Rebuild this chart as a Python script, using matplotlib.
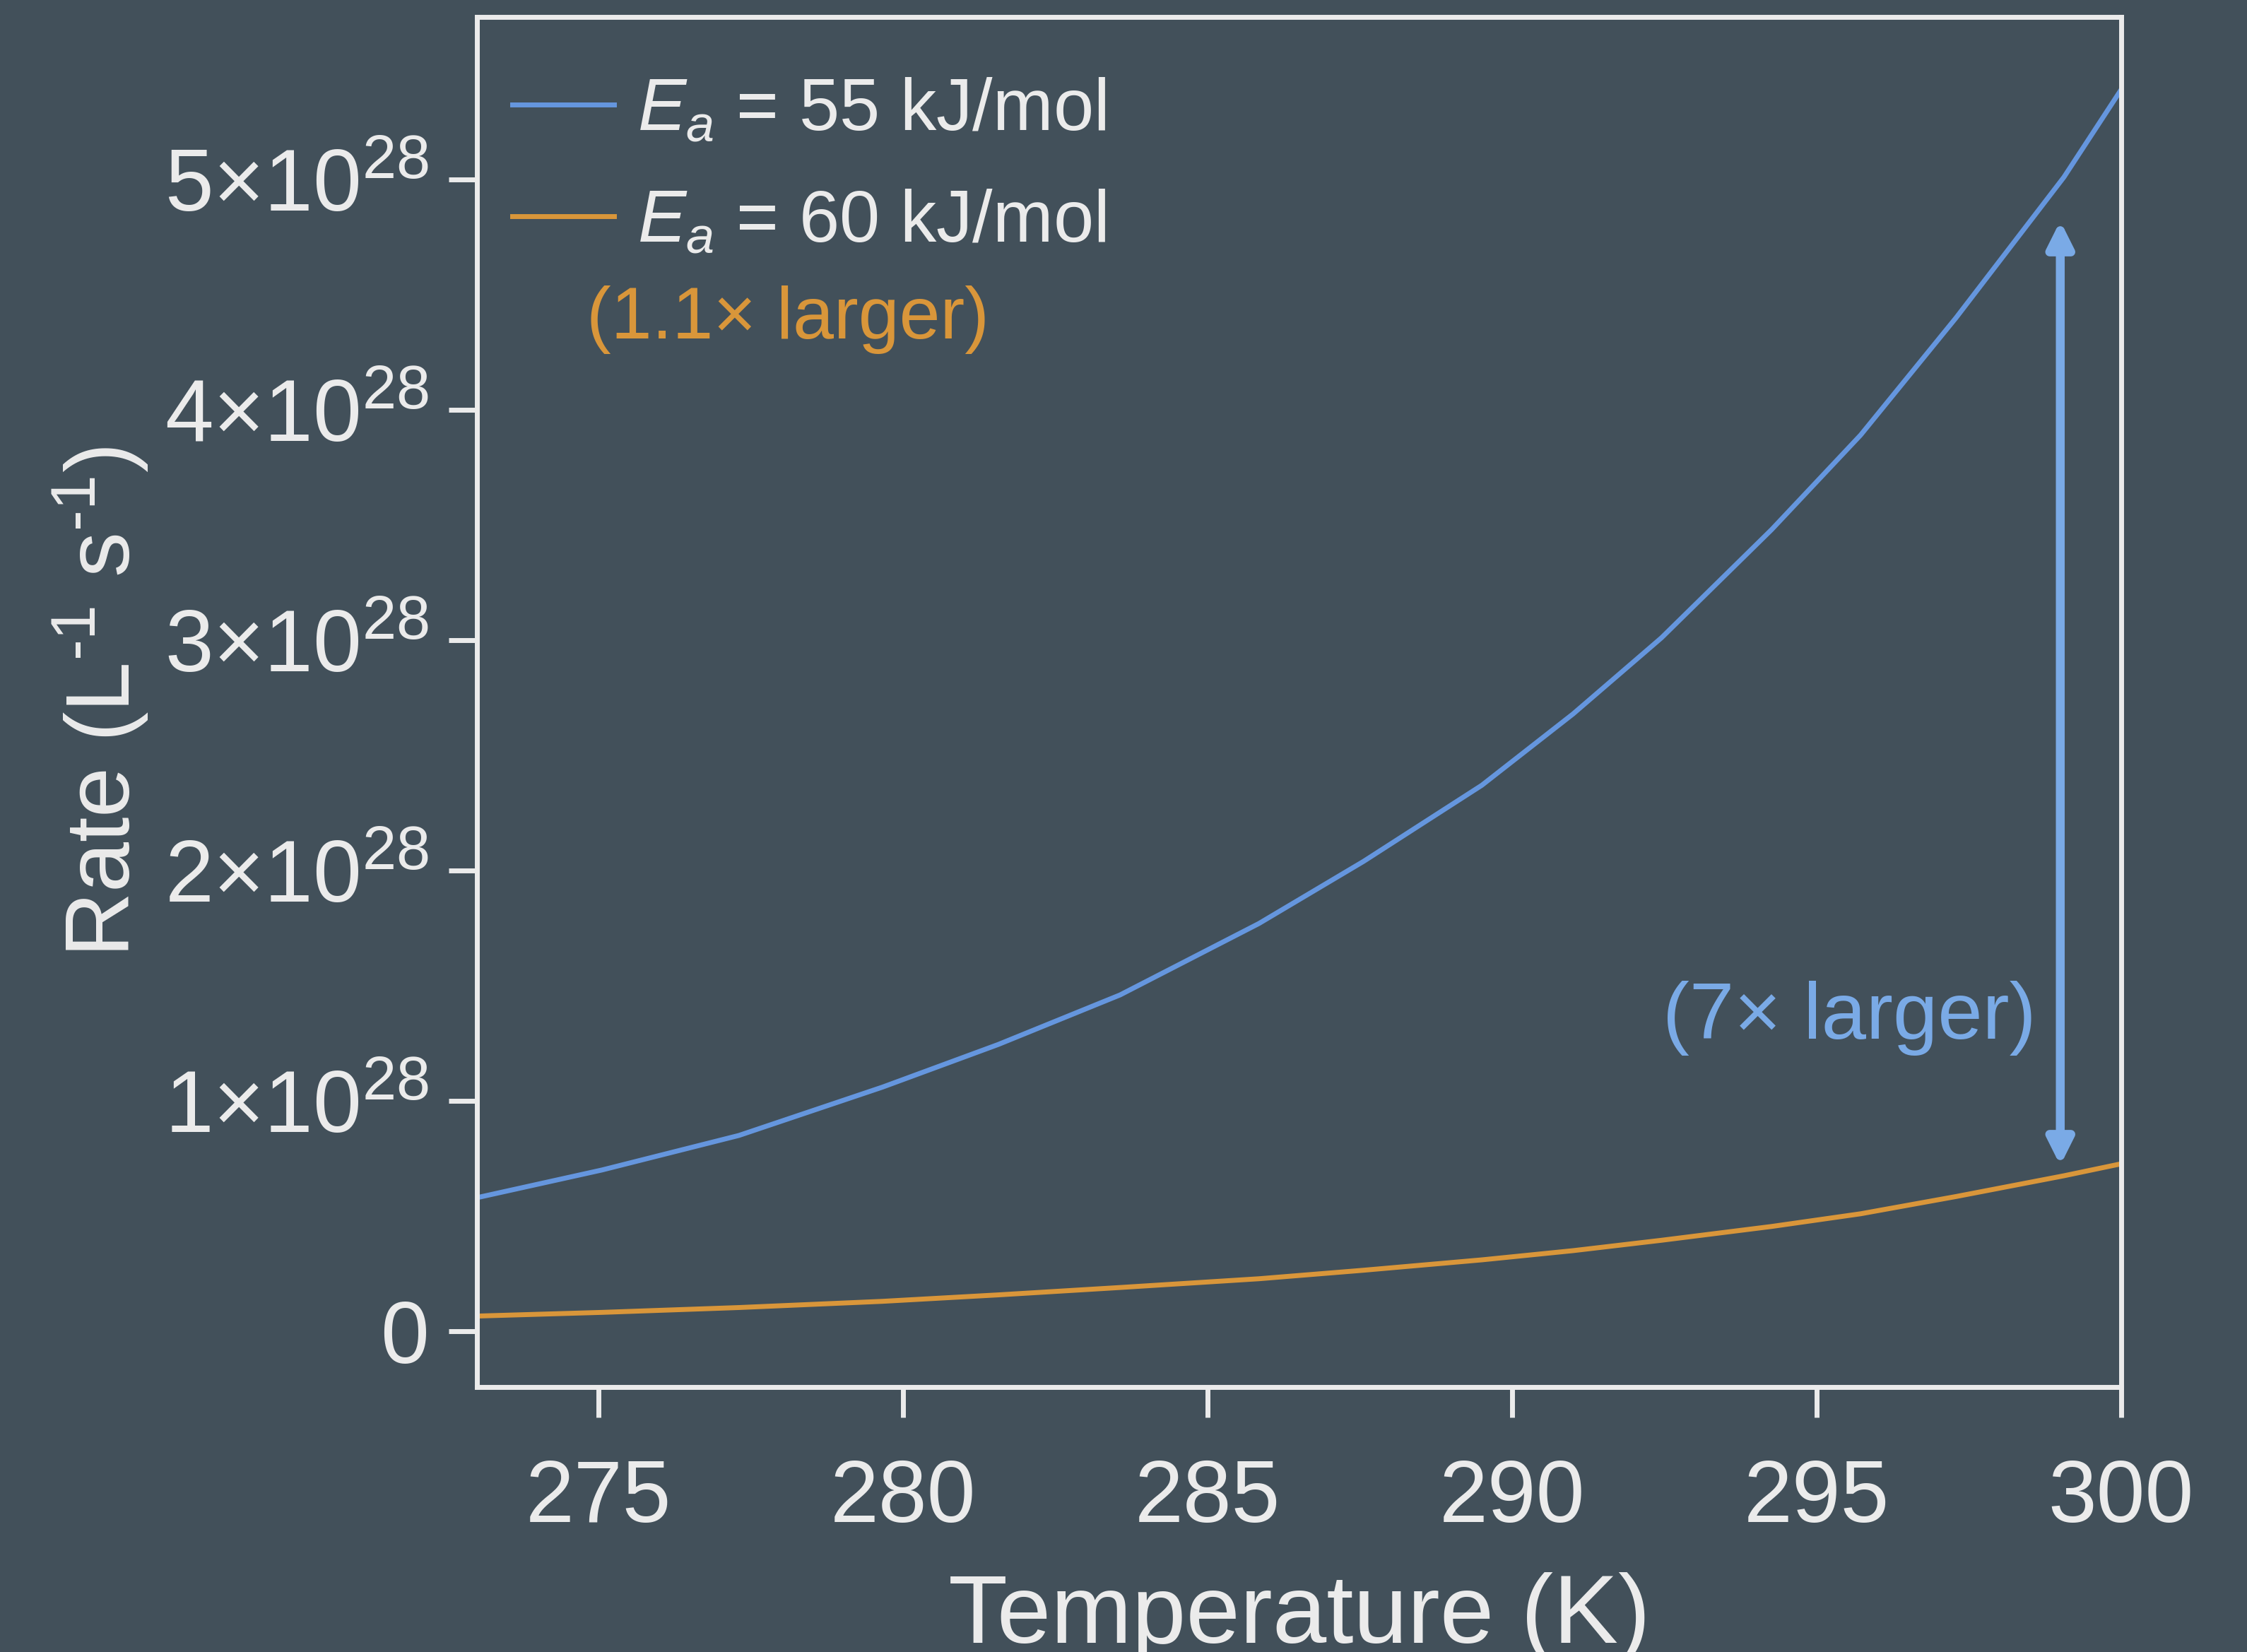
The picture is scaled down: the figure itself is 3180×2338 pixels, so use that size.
import matplotlib
matplotlib.use("Agg")
import matplotlib.pyplot as plt
from matplotlib.ticker import FuncFormatter

BG = "#42505a"
FG = "#ebebeb"
BLUE = "#6596de"
BLUE_LIGHT = "#7aaae6"
ORANGE = "#d9963a"

SCALE = 1e28

# values (rate in units of 1e28 L^-1 s^-1)
temp_k = [273.0, 275.05, 277.3, 279.66, 281.56, 283.56, 285.84, 287.56,
          289.5, 291.0, 292.45, 294.26, 295.72, 297.29, 299.06, 300.0]
rate_55 = [0.58, 0.70, 0.85, 1.06, 1.245, 1.46, 1.77, 2.04,
           2.37, 2.68, 3.01, 3.48, 3.89, 4.40, 5.01, 5.39]
rate_60 = [0.066, 0.082, 0.103, 0.13, 0.158, 0.19, 0.228, 0.265,
           0.31, 0.35, 0.395, 0.455, 0.51, 0.585, 0.675, 0.727]

x_ticks = [275, 280, 285, 290, 295, 300]
y_ticks = [0, 1, 2, 3, 4, 5]

arrow_t = 299
arrow_lo, arrow_hi = 0.72, 4.82

plt.rcParams["font.family"] = ["Liberation Sans", "DejaVu Sans"]
plt.rcParams["mathtext.fontset"] = "custom"
plt.rcParams["mathtext.rm"] = "Liberation Sans"
plt.rcParams["mathtext.it"] = "Liberation Sans:italic"

fig = plt.figure(figsize=(15.9, 11.69), dpi=200, facecolor=BG)
ax = fig.add_axes([0.2123, 0.1604, 0.7317, 0.8293], facecolor=BG)

ax.plot(temp_k, [v * SCALE for v in rate_55], color=BLUE, lw=2.5,
        label=r"$E_a$ = 55 kJ/mol")
ax.plot(temp_k, [v * SCALE for v in rate_60], color=ORANGE, lw=2.5,
        label=r"$E_a$ = 60 kJ/mol")

ax.annotate("", xy=(arrow_t, arrow_lo * SCALE), xytext=(arrow_t, arrow_hi * SCALE),
            arrowprops=dict(arrowstyle="<|-|>,head_length=0.6,head_width=0.3",
                            color=BLUE_LIGHT, lw=4.5, mutation_scale=18,
                            shrinkA=0, shrinkB=0))
ax.text(298.6, 1.36 * SCALE, "(7× larger)", color=BLUE_LIGHT, fontsize=41,
        ha="right", va="center")
ax.text(274.8, 4.39 * SCALE, "(1.1× larger)", color=ORANGE, fontsize=37.5,
        ha="left", va="center")

ax.set_xlim(273, 300)
ax.set_ylim(-0.242 * SCALE, 5.705 * SCALE)
ax.set_xticks(x_ticks)
ax.set_yticks([v * SCALE for v in y_ticks])
ax.yaxis.set_major_formatter(FuncFormatter(
    lambda v, p: "0" if abs(v) < 1 else f"{round(v / SCALE)}×10$^{{28}}$"))

for s in ax.spines.values():
    s.set_color(FG)
    s.set_linewidth(2.5)
ax.tick_params(colors=FG, width=2.5, labelsize=44.5)
ax.tick_params(axis="x", length=15.5, pad=21)
ax.tick_params(axis="y", length=14.5, pad=10)

ax.set_xlabel("Temperature (K)", color=FG, fontsize=49.5, labelpad=16)
ax.set_ylabel(r"Rate (L$^{\text{-1}}$ s$^{\text{-1}}$)", color=FG, fontsize=46,
              labelpad=7)

leg = ax.legend(loc="upper left", bbox_to_anchor=(0.0215, 0.956), frameon=False,
                fontsize=37, handlelength=1.4, handletextpad=0.32,
                labelspacing=0.585, borderpad=0, borderaxespad=0)
for t in leg.get_texts():
    t.set_color(FG)

fig.savefig("out.png", dpi=200, facecolor=BG)
